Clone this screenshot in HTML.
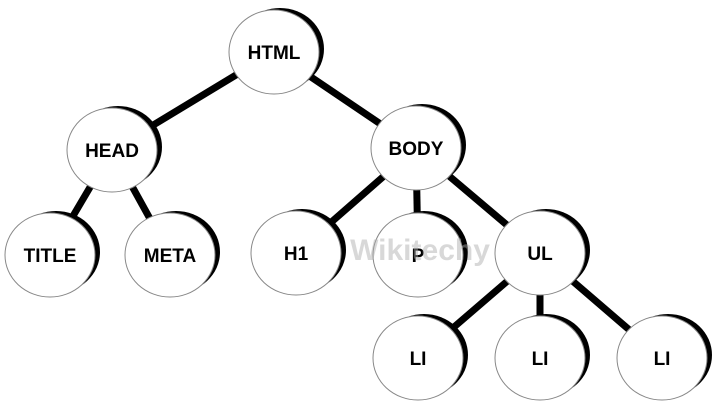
<!DOCTYPE html>
<html><head><style>body{margin:0;background:#fff}svg{display:block}</style></head><body>
<svg width="715" height="414" viewBox="0 0 715 414" xmlns="http://www.w3.org/2000/svg">
<g stroke="#000" stroke-width="7" stroke-linecap="butt">
<line x1="274" y1="52" x2="112" y2="150"/>
<line x1="274" y1="52" x2="416" y2="148"/>
<line x1="112" y1="150" x2="50" y2="255"/>
<line x1="112" y1="150" x2="170" y2="255"/>
<line x1="416" y1="148" x2="296" y2="253"/>
<line x1="416" y1="148" x2="418" y2="255"/>
<line x1="416" y1="148" x2="540" y2="253"/>
<line x1="540" y1="253" x2="418" y2="358"/>
<line x1="540" y1="253" x2="540" y2="358"/>
<line x1="540" y1="253" x2="662" y2="358"/>
</g>
<g id="n">
</g>
<g font-family="Liberation Sans, sans-serif" font-weight="bold" font-size="19" text-anchor="middle" fill="#000">
<g transform="translate(274,52)"><ellipse cx="6" cy="-3" rx="44" ry="41" fill="#000"/><ellipse rx="45" ry="42" fill="#fff" stroke="#888" stroke-width="1"/><text y="7">HTML</text></g>
<g transform="translate(112,150)"><ellipse cx="6" cy="-3" rx="44" ry="41" fill="#000"/><ellipse rx="45" ry="42" fill="#fff" stroke="#888" stroke-width="1"/><text y="7">HEAD</text></g>
<g transform="translate(416,148)"><ellipse cx="6" cy="-3" rx="44" ry="41" fill="#000"/><ellipse rx="45" ry="42" fill="#fff" stroke="#888" stroke-width="1"/><text y="7">BODY</text></g>
<g transform="translate(50,255)"><ellipse cx="6" cy="-3" rx="44" ry="41" fill="#000"/><ellipse rx="45" ry="42" fill="#fff" stroke="#888" stroke-width="1"/><text y="7">TITLE</text></g>
<g transform="translate(170,255)"><ellipse cx="6" cy="-3" rx="44" ry="41" fill="#000"/><ellipse rx="45" ry="42" fill="#fff" stroke="#888" stroke-width="1"/><text y="7">META</text></g>
<g transform="translate(296,253)"><ellipse cx="6" cy="-3" rx="44" ry="41" fill="#000"/><ellipse rx="45" ry="42" fill="#fff" stroke="#888" stroke-width="1"/><text y="7">H1</text></g>
<g transform="translate(418,255)"><ellipse cx="6" cy="-3" rx="44" ry="41" fill="#000"/><ellipse rx="45" ry="42" fill="#fff" stroke="#888" stroke-width="1"/><text y="7">P</text></g>
<g transform="translate(540,253)"><ellipse cx="6" cy="-3" rx="44" ry="41" fill="#000"/><ellipse rx="45" ry="42" fill="#fff" stroke="#888" stroke-width="1"/><text y="7">UL</text></g>
<g transform="translate(418,358)"><ellipse cx="6" cy="-3" rx="44" ry="41" fill="#000"/><ellipse rx="45" ry="42" fill="#fff" stroke="#888" stroke-width="1"/><text y="7">LI</text></g>
<g transform="translate(540,358)"><ellipse cx="6" cy="-3" rx="44" ry="41" fill="#000"/><ellipse rx="45" ry="42" fill="#fff" stroke="#888" stroke-width="1"/><text y="7">LI</text></g>
<g transform="translate(662,358)"><ellipse cx="6" cy="-3" rx="44" ry="41" fill="#000"/><ellipse rx="45" ry="42" fill="#fff" stroke="#888" stroke-width="1"/><text y="7">LI</text></g>
</g>
<text x="420" y="260" font-family="Liberation Sans, sans-serif" font-weight="bold" font-size="30" text-anchor="middle" fill="#aaa" opacity="0.45">Wikitechy</text>
</svg>
</body></html>
